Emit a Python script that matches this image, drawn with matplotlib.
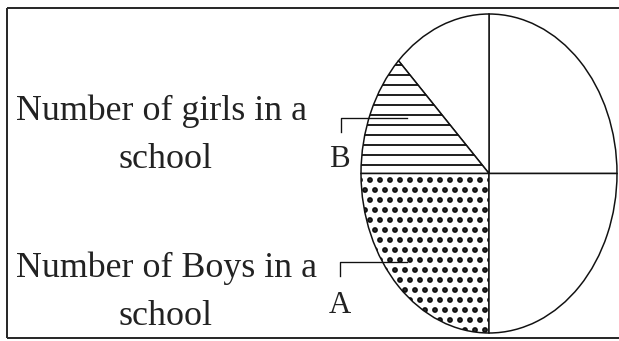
import matplotlib
matplotlib.use('Agg')
import matplotlib.pyplot as plt

# sector sizes in degrees, counter-clockwise from 3 o'clock
sectors = ['upper right', 'upper left', 'B (girls)', 'A (boys)', 'lower right']
sizes = [90, 45, 45, 90, 90]
hatches = ['', '', '-', '.', '']

girls_text = ['Number of girls in a', 'school']
boys_text = ['Number of Boys in a', 'school']

W, H, DPI = 619, 341, 60
plt.rcParams['font.family'] = ['Liberation Serif', 'DejaVu Serif']
plt.rcParams['hatch.linewidth'] = 2.2
plt.rcParams['hatch.color'] = '#111111'

fig = plt.figure(figsize=(W / DPI, H / DPI), dpi=DPI)
fig.patch.set_facecolor('white')

# pie drawn stretched into an ellipse
ax_pie = fig.add_axes([361 / W, (H - 333) / H, 256 / W, 319 / H])
wedges, _ = ax_pie.pie(sizes, startangle=0, counterclock=True, hatch=hatches,
                       wedgeprops=dict(edgecolor='#111111', linewidth=1.8,
                                       facecolor='white'))
if hasattr(wedges[3], 'set_hatch_linewidth'):
    wedges[3].set_hatch_linewidth(4.5)
ax_pie.set_aspect('auto')
ax_pie.set_xlim(-1, 1)
ax_pie.set_ylim(-1, 1)
ax_pie.axis('off')

# overlay in pixel coordinates for text, frame and pointers
ax = fig.add_axes([0, 0, 1, 1], zorder=3)
ax.set_xlim(0, W)
ax.set_ylim(H, 0)
ax.axis('off')

frame = dict(color='#2a2a2a', lw=2.4, solid_capstyle='butt')
ax.plot([7, W], [8, 8], **frame)
ax.plot([7, 7], [8, 338], **frame)
ax.plot([7, W], [338, 338], **frame)

tc = '#222222'
ax.text(161, 120, girls_text[0], fontsize=43, ha='center', va='baseline', color=tc)
ax.text(166, 168, girls_text[1], fontsize=43, ha='center', va='baseline', color=tc)
ax.text(166, 277, boys_text[0], fontsize=43, ha='center', va='baseline', color=tc)
ax.text(166, 325, boys_text[1], fontsize=43, ha='center', va='baseline', color=tc)

# B pointer
ax.plot([341, 341, 407], [132, 118, 118], color='#111111', lw=1.6)
ax.text(339, 167, 'B', fontsize=37, ha='center', va='baseline', color=tc)
# A pointer
ax.plot([340, 340, 407], [276, 262, 262], color='#111111', lw=1.6)
ax.text(340, 313, 'A', fontsize=37, ha='center', va='baseline', color=tc)

plt.savefig('out.png', dpi=DPI, facecolor='white')
